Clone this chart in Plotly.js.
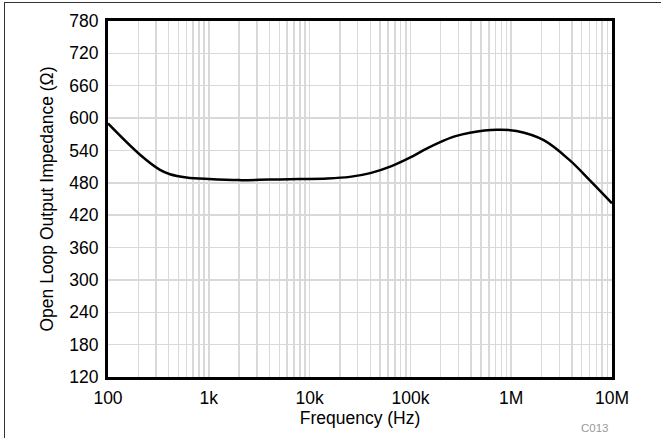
<!DOCTYPE html>
<html>
<head>
<meta charset="utf-8">
<script src="https://cdn.plot.ly/plotly-3.0.1.min.js"></script>
<style>
html,body{margin:0;padding:0;background:#fff;}
#wrap{position:relative;width:661px;height:438px;overflow:hidden;}
#chart{position:absolute;left:0;top:0;width:661px;height:438px;}
#frame{position:absolute;left:4px;top:2px;width:700px;height:480px;border:1.5px solid #333;pointer-events:none;box-sizing:border-box;}
</style>
</head>
<body>
<div id="wrap"><div id="chart"></div><div id="frame"></div></div>
<script>
// Frequency (Hz)
const freq = [100, 208, 328, 412, 600, 1000, 2000, 4000, 8000, 15000, 25000, 40000, 65000, 100000, 140000, 195000, 275000, 390000, 720000, 1130000, 2100000, 3800000, 6000000, 10000000];
// Open loop output impedance (Ohm)
const zout = [590, 532, 504, 496, 490, 487, 485, 486, 487, 488, 491, 498, 511, 527, 542, 555, 566, 573, 578.5, 576, 559, 522, 485, 442];

const yTicks = [120, 180, 240, 300, 360, 420, 480, 540, 600, 660, 720, 780];
const xMajor = [100, 1000, 10000, 100000, 1000000, 10000000];
const xMajorText = ["100", "1k", "10k", "100k", "1M", "10M"];

const xTickVals = [];
const xTickText = [];
for (let d = 0; d < xMajor.length; d++) {
  for (let m = 1; m <= 9; m++) {
    if (d === xMajor.length - 1 && m > 1) break;
    xTickVals.push(xMajor[d] * m);
    xTickText.push(m === 1 ? xMajorText[d] : "");
  }
}

const font = {family: "Liberation Sans, Arial, sans-serif", size: 17.5, color: "#000"};

Plotly.newPlot("chart", [{
  x: freq, y: zout, type: "scatter", mode: "lines",
  line: {color: "#000", width: 2.5, shape: "spline", smoothing: 1},
  hoverinfo: "none"
}], {
  width: 661, height: 438,
  margin: {l: 108, r: 49, t: 21, b: 61},
  paper_bgcolor: "rgba(0,0,0,0)", plot_bgcolor: "#fff",
  showlegend: false,
  font: font,
  xaxis: {
    type: "log", range: [2, 7],
    tickmode: "array", tickvals: xTickVals, ticktext: xTickText,
    showgrid: true, gridcolor: "#d9d9d9", gridwidth: 1.5,
    showline: true, linecolor: "#000", linewidth: 3, mirror: true,
    ticks: "outside", ticklen: 3, tickcolor: "rgba(0,0,0,0)", tickfont: font,
    zeroline: false,
    title: {text: "Frequency (Hz)", font: font, standoff: 3}
  },
  yaxis: {
    range: [120, 780],
    tickmode: "array", tickvals: yTicks, ticktext: yTicks.map(String),
    showgrid: true, gridcolor: "#d9d9d9", gridwidth: 1.5,
    showline: true, linecolor: "#000", linewidth: 3, mirror: true,
    ticks: "outside", ticklen: 3, tickcolor: "rgba(0,0,0,0)", tickfont: font, zeroline: false,
    title: {text: "Open Loop Output Impedance (Ω)", font: font, standoff: 12}
  },
  annotations: [{
    text: "C013", xref: "paper", yref: "paper", x: 0.966, y: -0.143,
    xanchor: "center", yanchor: "middle", showarrow: false,
    font: {family: "Liberation Sans, Arial, sans-serif", size: 11.5, color: "#999"}
  }]
}, {staticPlot: true});
</script>
</body>
</html>
